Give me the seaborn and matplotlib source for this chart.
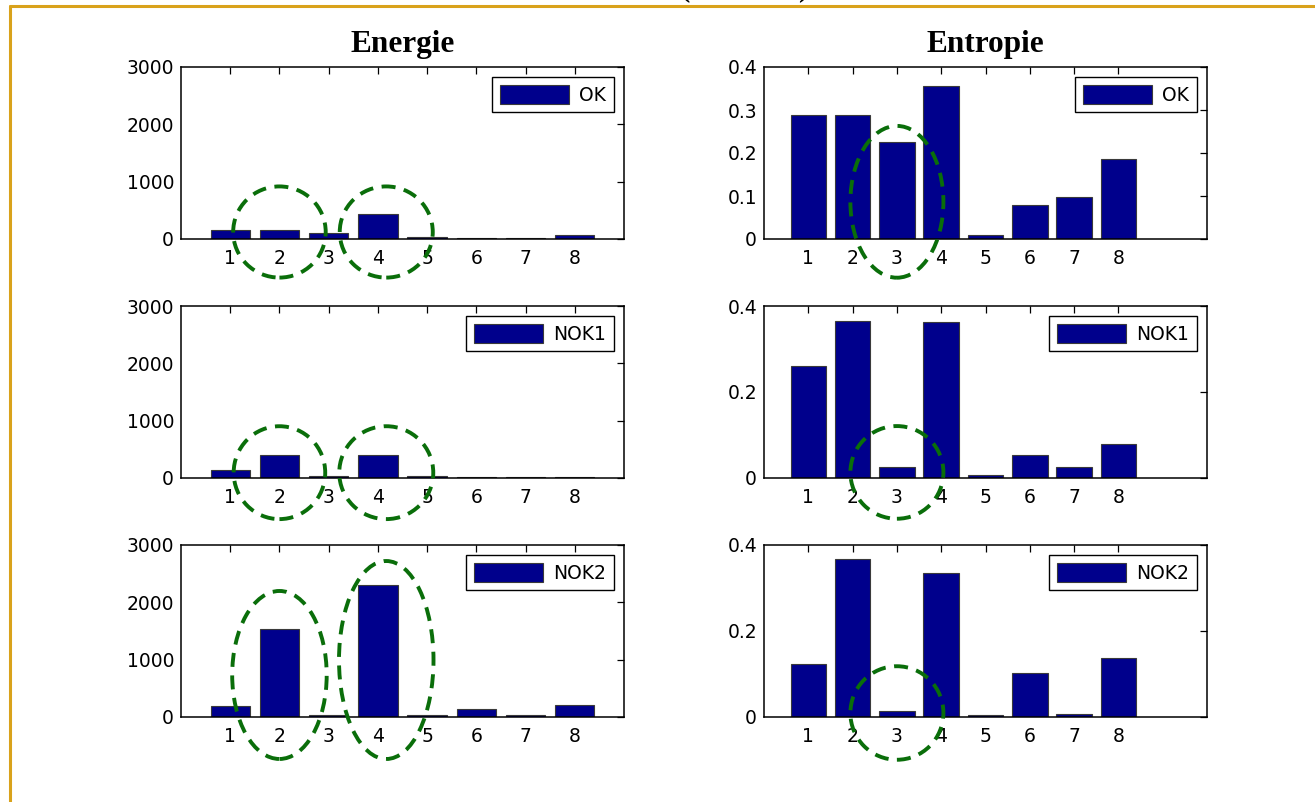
import numpy as np
import pandas as pd
import matplotlib.pyplot as plt
import seaborn as sns
from matplotlib.patches import Ellipse
from matplotlib.lines import Line2D

# bar values (8 sub-bands)
bands = [1, 2, 3, 4, 5, 6, 7, 8]
classes = ['OK', 'NOK1', 'NOK2']
energie_ok = [160, 160, 100, 440, 30, 25, 25, 70]
energie_nok1 = [140, 400, 30, 400, 30, 25, 25, 25]
energie_nok2 = [190, 1530, 30, 2300, 30, 140, 30, 210]
entropie_ok = [0.288, 0.288, 0.225, 0.356, 0.009, 0.080, 0.098, 0.187]
entropie_nok1 = [0.261, 0.366, 0.026, 0.363, 0.007, 0.054, 0.026, 0.078]
entropie_nok2 = [0.124, 0.368, 0.015, 0.336, 0.004, 0.103, 0.008, 0.138]

# highlighted bands (dashed rings): (band, y centre, width, height) in data units
energie_rings = [
    [(2.0, 122, 1.88, 1590), (4.17, 122, 1.89, 1590)],
    [(2.0, 93, 1.86, 1620), (4.17, 93, 1.91, 1620)],
    [(2.0, 733, 1.92, 2930), (4.17, 994, 1.92, 3453)],
]
entropie_rings = [
    [(3.0, 0.0865, 2.1, 0.353)],
    [(3.0, 0.013, 2.1, 0.2155)],
    [(3.0, 0.0093, 2.1, 0.2175)],
]

NAVY = '#00008c'
RING = '#0a6e0a'
GOLD = '#d9a21b'

sns.set_theme(style='white')
plt.rcParams['font.family'] = ['DejaVu Sans']
plt.rcParams['text.color'] = 'black'

fig = plt.figure(figsize=(13.15, 8.02), dpi=100)
W, H = 1315, 802

col_left = [181, 764]
row_top = [67, 306, 545]
ax_w, ax_h = 443, 172

energie = [energie_ok, energie_nok1, energie_nok2]
entropie = [entropie_ok, entropie_nok1, entropie_nok2]
FS = 13.5


def style_axis(ax):
    for s in ax.spines.values():
        s.set_color('black')
        s.set_linewidth(1.1)
    ax.tick_params(direction='in', top=True, right=True, length=5, width=0.9,
                   colors='black', labelsize=FS)
    ax.tick_params(axis='x', pad=7)
    ax.tick_params(axis='y', pad=5)
    ax.set_xlabel('')
    ax.set_ylabel('')


def add_rings(ax, rings):
    for (cx, cy, w, h) in rings:
        e = Ellipse((cx, cy), w, h, fill=False, edgecolor=RING, linewidth=2.8,
                    linestyle=(0, (3.6, 2.2)), clip_on=False, zorder=10)
        ax.add_patch(e)


for r in range(3):
    for c in range(2):
        x0 = col_left[c] / W
        y0 = 1 - (row_top[r] + ax_h) / H
        ax = fig.add_axes([x0, y0, ax_w / W, ax_h / H])
        vals = energie[r] if c == 0 else entropie[r]
        df = pd.DataFrame({'band': bands, 'value': vals})
        sns.barplot(data=df, x='band', y='value', native_scale=True, ax=ax,
                    color=NAVY, saturation=1, edgecolor='#3a3a3a', linewidth=0.8,
                    errorbar=None, width=0.8)
        style_axis(ax)
        ax.set_xticks(bands)
        ax.set_xticklabels([str(b) for b in bands])
        if c == 0:
            ax.set_xlim(0, 9)
            ax.set_ylim(0, 3000)
            ax.set_yticks([0, 1000, 2000, 3000])
            add_rings(ax, energie_rings[r])
            if r == 0:
                ax.set_title('Energie', fontfamily='Liberation Serif', fontweight='bold',
                             fontsize=22.5, pad=11, color='black')
        else:
            ax.set_xlim(0, 10)
            ax.set_ylim(0, 0.4)
            if r == 0:
                ax.set_yticks([0, 0.1, 0.2, 0.3, 0.4])
                ax.set_yticklabels(['0', '0.1', '0.2', '0.3', '0.4'])
                ax.set_title('Entropie', fontfamily='Liberation Serif', fontweight='bold',
                             fontsize=22.5, pad=11, color='black')
            else:
                ax.set_yticks([0, 0.2, 0.4])
                ax.set_yticklabels(['0', '0.2', '0.4'])
            add_rings(ax, entropie_rings[r])
        leg = ax.legend([ax.patches[0]], [classes[r]], loc='upper right',
                        fontsize=FS, handlelength=3.7, handleheight=1.2,
                        fancybox=False, framealpha=1, borderaxespad=0.55,
                        borderpad=0.4, handletextpad=0.55, labelcolor='black')
        leg.get_frame().set_edgecolor('black')
        leg.get_frame().set_linewidth(1.0)

# slide frame and the cut-off heading above it
fig.add_artist(Line2D([10 / W, 10 / W], [0, 1 - 6 / H], color=GOLD, linewidth=2.2))
fig.add_artist(Line2D([10 / W, 1], [1 - 6 / H, 1 - 6 / H], color=GOLD, linewidth=2.2))
fig.text(685 / W, 1 + 3 / H, '(', fontfamily='Liberation Serif', fontweight='bold',
         fontsize=20, ha='center', va='baseline')
fig.text(803 / W, 1 + 3 / H, ')', fontfamily='Liberation Serif', fontweight='bold',
         fontsize=20, ha='center', va='baseline')

fig.savefig('out.png', dpi=100, facecolor='white')
